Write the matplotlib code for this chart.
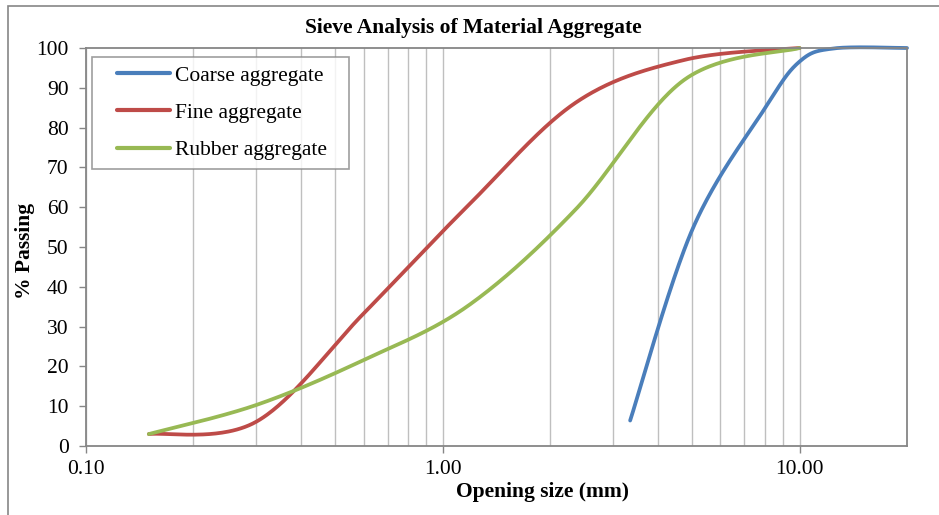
import numpy as np
import matplotlib
matplotlib.use("Agg")
import matplotlib.pyplot as plt
from matplotlib.patches import Rectangle
from matplotlib.ticker import FixedLocator, NullFormatter, FixedFormatter
from matplotlib.legend_handler import HandlerLine2D

# ---- data ----
coarse_size = [3.35, 5.0, 8.0, 10.0, 12.5, 20.0]
coarse_pass = [6.4, 54.3, 84.9, 96.6, 99.9, 100.0]

fine_size = [0.15, 0.3, 0.6, 1.18, 2.36, 4.75, 10.0]
fine_pass = [3.0, 6.1, 33.3, 60.5, 86.3, 97.0, 100.0]

rubber_size = [0.15, 0.3, 0.6, 1.18, 2.36, 4.75, 10.0]
rubber_pass = [3.0, 10.3, 21.6, 35.3, 59.5, 92.0, 100.0]

series_names = ["Coarse aggregate", "Fine aggregate", "Rubber aggregate"]
series_colors = ["#4A7EBB", "#BE4B48", "#98B954"]

x_major = [0.1, 1.0, 10.0]
x_major_labels = ["0.10", "1.00", "10.00"]
y_ticks = list(range(0, 101, 10))


def smooth_line(x, y, n=60):
    """Excel-style smoothed line: cubic Bezier segments (Catmull-Rom control
    points) computed in log10(x) / y space, passing through every point."""
    P = np.column_stack([np.log10(np.asarray(x, float)), np.asarray(y, float)])
    k = len(P)
    t = np.linspace(0, 1, n)[:, None]
    out = []
    for i in range(k - 1):
        p0 = P[i - 1] if i > 0 else P[i]
        p1, p2 = P[i], P[i + 1]
        p3 = P[i + 2] if i + 2 < k else P[i + 1]
        c1 = p1 + (p2 - p0) / 6.0
        c2 = p2 - (p3 - p1) / 6.0
        seg = ((1 - t) ** 3) * p1 + 3 * ((1 - t) ** 2) * t * c1 + 3 * (1 - t) * t ** 2 * c2 + t ** 3 * p2
        out.append(seg if i == 0 else seg[1:])
    out = np.vstack(out)
    return 10 ** out[:, 0], out[:, 1]


class ShortLine(HandlerLine2D):
    """Legend line that starts further right (leaves empty space on the left)."""
    def __init__(self, shift_frac, **kw):
        super().__init__(**kw)
        self.shift_frac = shift_frac

    def create_artists(self, legend, orig_handle, xdescent, ydescent, width, height, fontsize, trans):
        s = width * self.shift_frac
        return super().create_artists(legend, orig_handle, xdescent - s, ydescent, width - s,
                                      height, fontsize, trans)


plt.rcParams["font.family"] = ["Liberation Serif", "DejaVu Serif"]
FS = 15.5

fig = plt.figure(figsize=(9.39, 5.15), dpi=100)
ax = fig.add_axes([86 / 939, (515 - 446) / 515, (907 - 86) / 939, (446 - 48) / 515])

# outer chart border
fig.add_artist(Rectangle((8 / 939, -0.1), 1.2, (515 - 6) / 515 + 0.1, transform=fig.transFigure,
                         fill=False, edgecolor="#868686", lw=1.2, clip_on=False))

lines = []
for (sx, sy), name, col in zip([(coarse_size, coarse_pass), (fine_size, fine_pass), (rubber_size, rubber_pass)],
                               series_names, series_colors):
    xs, ys = smooth_line(sx, sy)
    ln, = ax.plot(xs, ys, color=col, lw=2.7, label=name, solid_capstyle="round", clip_on=False)
    lines.append(ln)

ax.set_xscale("log")
ax.set_xlim(0.1, 20)
ax.set_ylim(0, 100)

ax.xaxis.set_major_locator(FixedLocator(x_major))
ax.xaxis.set_major_formatter(FixedFormatter(x_major_labels))
minor = [m * d for d in (0.1, 1.0, 10.0) for m in range(2, 10) if m * d < 20]
ax.xaxis.set_minor_locator(FixedLocator(minor))
ax.xaxis.set_minor_formatter(NullFormatter())
ax.set_yticks(y_ticks)

ax.grid(True, which="both", axis="x", color="#BFBFBF", lw=1.0)
ax.set_axisbelow(True)

for s in ax.spines.values():
    s.set_color("#868686")
    s.set_linewidth(1.3)

ax.tick_params(axis="x", which="major", length=5, width=1.0, color="#868686", labelsize=FS, pad=5)
ax.tick_params(axis="x", which="minor", length=0)
ax.tick_params(axis="y", which="major", length=5, width=1.0, color="#868686", labelsize=FS, pad=7.5)

ax.set_ylabel("% Passing", fontsize=FS, fontweight="bold")
ax.yaxis.set_label_coords(-(86 - 35) / 821, 0.49)
ax.set_xlabel("Opening size (mm)", fontsize=FS, fontweight="bold")
ax.xaxis.set_label_coords((543 - 86) / 821, -(482 - 446) / 398)

fig.text(473 / 939, (515 - 28) / 515, "Sieve Analysis of Material Aggregate", ha="center", va="center",
         fontsize=FS, fontweight="bold")

leg_x0 = (92 - 86) / 821
leg_top = (446 - 57) / 398
leg_w = (349 - 92) / 821
leg_h = (169 - 57) / 398
leg = ax.legend(handles=lines, loc="upper left", bbox_to_anchor=(leg_x0, leg_top - leg_h, leg_w, leg_h),
                mode="expand", fontsize=FS, frameon=True, fancybox=False, handlelength=3.2,
                handletextpad=0.25, labelspacing=0.8, borderpad=0.4, borderaxespad=0,
                handler_map={l: ShortLine(0.24) for l in lines})
leg.get_frame().set_edgecolor("#868686")
leg.get_frame().set_linewidth(1.2)
for line in leg.get_lines():
    line.set_linewidth(3.0)

fig.savefig("out.png", dpi=100)
